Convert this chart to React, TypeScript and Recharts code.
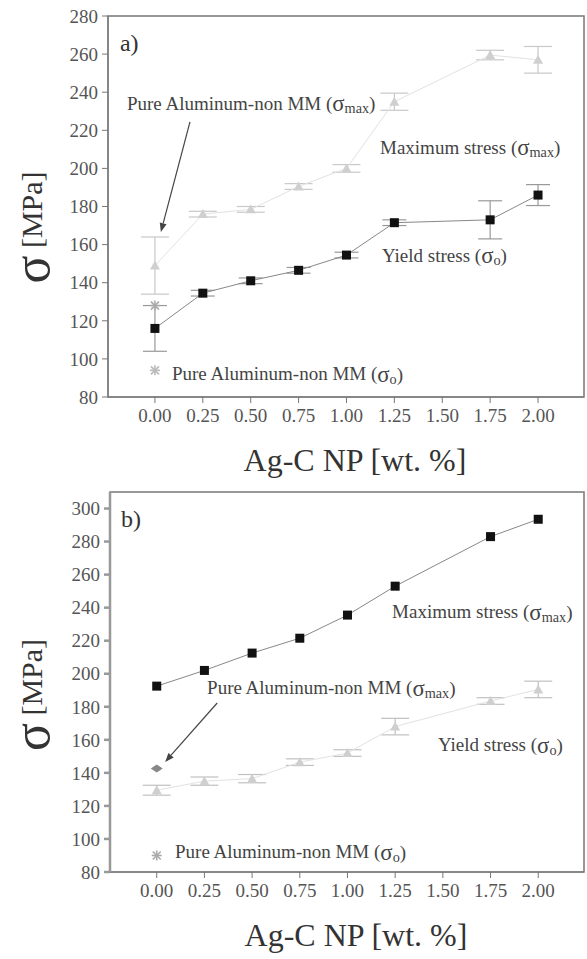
import React from 'react';
import {
  ComposedChart,
  Line,
  XAxis,
  YAxis,
  ErrorBar,
  Scatter,
  ReferenceArea,
  ReferenceDot,
  ReferenceLine,
} from 'recharts';

const FONT = 'Liberation Serif, DejaVu Serif, serif';

// Ag-C NP content [wt. %]
const xs = [0, 0.25, 0.5, 0.75, 1.0, 1.25, 1.75, 2.0];
const xTicks = [0, 0.25, 0.5, 0.75, 1.0, 1.25, 1.5, 1.75, 2.0];

// panel a)
const yieldA = [116, 134.5, 141, 146.5, 154.5, 171.5, 173, 186];
const yieldAErr = [12, 1.5, 1.5, 1.5, 1.5, 1.5, 10, 5.5];
const maxA = [149, 176, 178.5, 190.5, 200, 235, 259.5, 257];
const maxAErr = [15, 1.5, 1.5, 1.5, 2, 4.5, 2.5, 7];
const pureA = [{ x: 0, y: 128 }];
const pureKeyA = [{ x: 0, y: 94 }];
const yTicksA = [80, 100, 120, 140, 160, 180, 200, 220, 240, 260, 280];

// panel b)
const maxB = [192.5, 202, 212.5, 221.5, 235.5, 253, 283, 293.5];
const yieldB = [129.5, 135, 136.5, 146.5, 152, 168, 183.5, 190.5];
const yieldBErr = [3, 2.5, 2.5, 2, 2, 5, 2, 5];
const pureB = [{ x: 0, y: 142.6 }];
const pureKeyB = [{ x: 0, y: 90 }];
const yTicksB = [80, 100, 120, 140, 160, 180, 200, 220, 240, 260, 280, 300];

const dataA = xs.map((x, i) => ({
  x,
  yld: yieldA[i],
  yldErr: yieldAErr[i],
  max: maxA[i],
  maxErr: maxAErr[i],
}));
const dataB = xs.map((x, i) => ({
  x,
  max: maxB[i],
  yld: yieldB[i],
  yldErr: yieldBErr[i],
}));

const Square = (p: any) =>
  p.cx == null ? null : (
    <rect key={`sq${p.index}`} x={p.cx - 4.5} y={p.cy - 4.5} width={9} height={9} fill="#111" />
  );

const Tri = (color: string) => (p: any) =>
  p.cx == null ? null : (
    <path
      key={`tr${p.index}`}
      d={`M${p.cx},${p.cy - 5} L${p.cx + 5},${p.cy + 4} L${p.cx - 5},${p.cy + 4} Z`}
      fill={color}
    />
  );

const Star = (color: string) => (p: any) => (
  <g stroke={color} strokeWidth={1.6}>
    <line x1={p.cx - 5} y1={p.cy} x2={p.cx + 5} y2={p.cy} />
    <line x1={p.cx} y1={p.cy - 5} x2={p.cx} y2={p.cy + 5} />
    <line x1={p.cx - 4} y1={p.cy - 4} x2={p.cx + 4} y2={p.cy + 4} />
    <line x1={p.cx - 4} y1={p.cy + 4} x2={p.cx + 4} y2={p.cy - 4} />
  </g>
);

const Diamond = (color: string) => (p: any) => (
  <path d={`M${p.cx - 6},${p.cy} L${p.cx},${p.cy - 4} L${p.cx + 6},${p.cy} L${p.cx},${p.cy + 4} Z`} fill={color} />
);

// text with sigma + subscript
const sigmaText = (pre: string, sub: string, size = 19) => (p: any) => (
  <text
    x={p.cx}
    y={p.cy}
    style={{ fontFamily: FONT }}
    fontSize={size}
    fill="#444"
    dominantBaseline="central">
    {pre}
    <tspan fontSize={size * 1.2}>σ</tspan>
    <tspan fontSize={size * 0.75} dy={5}>
      {sub}
    </tspan>
    <tspan dy={-5}>)</tspan>
  </text>
);

const plain = (s: string, size: number) => (p: any) => (
  <text x={p.cx} y={p.cy} style={{ fontFamily: FONT }} fontSize={size} fill="#333" dominantBaseline="central">
    {s}
  </text>
);

const Arrow = (p: any) => {
  const { x1, y1, x2, y2 } = p;
  const a = Math.atan2(y2 - y1, x2 - x1);
  const L = 9;
  const w = 3.5;
  const bx = x2 - L * Math.cos(a);
  const by = y2 - L * Math.sin(a);
  const nx = -Math.sin(a) * w;
  const ny = Math.cos(a) * w;
  return (
    <g>
      <line x1={x1} y1={y1} x2={bx} y2={by} stroke="#444" strokeWidth={1.2} />
      <path d={`M${x2},${y2} L${bx + nx},${by + ny} L${bx - nx},${by - ny} Z`} fill="#444" />
    </g>
  );
};

const tickStyle = { fontSize: 19, fill: '#555', fontFamily: FONT, style: { fontFamily: FONT } };

const xTitle = (dy: number) => ({ viewBox }: any) => (
  <text
    x={viewBox.x + viewBox.width / 2 + 9}
    y={viewBox.y + dy}
    textAnchor="middle"
    dominantBaseline="central"
    style={{ fontFamily: FONT }}
    fontSize={32}
    fill="#333">
    Ag-C NP [wt. %]
  </text>
);

const yTitle = (dy: number) => ({ viewBox }: any) => {
  const cy = viewBox.y + viewBox.height / 2 + dy;
  return (
    <text
      x={31}
      y={cy}
      transform={`rotate(-90 31 ${cy})`}
      textAnchor="middle"
      dominantBaseline="central"
      style={{ fontFamily: FONT }}
      fill="#333">
      <tspan fontSize={52}>σ</tspan>
      <tspan fontSize={30}> [MPa]</tspan>
    </text>
  );
};

const X_DOMAIN: [number, number] = [-0.245, 2.24];

const PanelA = () => (
  <ComposedChart width={587} height={490} data={dataA} margin={{ top: 16, right: 3, bottom: 0, left: 0 }}>
    <XAxis
      dataKey="x"
      type="number"
      domain={X_DOMAIN}
      ticks={xTicks}
      interval={0}
      allowDataOverflow
      tickFormatter={(v) => v.toFixed(2)}
      tick={tickStyle}
      tickSize={6}
      tickMargin={6}
      stroke="#777"
      height={93}
      label={{ content: xTitle(63) }}
    />
    <YAxis
      type="number"
      domain={[80, 280]}
      ticks={yTicksA}
      interval={0}
      allowDataOverflow
      tick={tickStyle}
      tickSize={6}
      tickMargin={4}
      stroke="#777"
      width={108}
      label={{ content: yTitle(21) }}
    />
    <ReferenceArea x1={X_DOMAIN[0]} x2={X_DOMAIN[1]} y1={80} y2={280} fill="none" stroke="#777" strokeWidth={1.5} />
    <Line dataKey="max" stroke="#e2e2e2" strokeWidth={1} dot={Tri('#cfcfcf')} isAnimationActive={false}>
      <ErrorBar dataKey="maxErr" width={14} stroke="#c8c8c8" strokeWidth={1.2} direction="y" />
    </Line>
    <Line dataKey="yld" stroke="#888" strokeWidth={1} dot={Square} isAnimationActive={false}>
      <ErrorBar dataKey="yldErr" width={12} stroke="#999" strokeWidth={1.2} direction="y" />
    </Line>
    <Scatter data={pureA} dataKey="y" shape={Star('#aaa')} isAnimationActive={false} />
    <Scatter data={pureKeyA} dataKey="y" shape={Star('#bbb')} isAnimationActive={false} />
    <ReferenceDot x={-0.183} y={265.8} r={0} ifOverflow="visible" shape={plain('a)', 24)} />
    <ReferenceDot x={-0.146} y={234.3} r={0} ifOverflow="visible" shape={sigmaText('Pure Aluminum-non MM (', 'max')} />
    <ReferenceDot x={1.175} y={211.2} r={0} ifOverflow="visible" shape={sigmaText('Maximum stress (', 'max')} />
    <ReferenceDot x={1.185} y={154.5} r={0} ifOverflow="visible" shape={sigmaText('Yield stress (', 'o')} />
    <ReferenceDot x={0.089} y={92.1} r={0} ifOverflow="visible" shape={sigmaText('Pure Aluminum-non MM (', 'o')} />
    <ReferenceLine
      segment={[
        { x: 0.183, y: 224.4 },
        { x: 0.031, y: 166.6 },
      ]}
      ifOverflow="visible"
      shape={Arrow}
    />
  </ComposedChart>
);

const PanelB = () => (
  <ComposedChart width={587} height={469} data={dataB} margin={{ top: 2, right: 3, bottom: 0, left: 0 }}>
    <XAxis
      dataKey="x"
      type="number"
      domain={X_DOMAIN}
      ticks={xTicks}
      interval={0}
      allowDataOverflow
      tickFormatter={(v) => v.toFixed(2)}
      tick={tickStyle}
      tickSize={6}
      tickMargin={6}
      stroke="#777"
      height={87}
      label={{ content: xTitle(63) }}
    />
    <YAxis
      type="number"
      domain={[80, 310]}
      ticks={yTicksB}
      interval={0}
      allowDataOverflow
      tick={tickStyle}
      tickSize={6}
      tickMargin={4}
      stroke="#999"
      strokeWidth={2.5}
      width={110}
      label={{ content: yTitle(13) }}
    />
    <ReferenceArea x1={X_DOMAIN[0]} x2={X_DOMAIN[1]} y1={80} y2={310} fill="none" stroke="#777" strokeWidth={1.5} />
    <Line dataKey="yld" stroke="#e2e2e2" strokeWidth={1} dot={Tri('#cfcfcf')} isAnimationActive={false}>
      <ErrorBar dataKey="yldErr" width={14} stroke="#c0c0c0" strokeWidth={1.2} direction="y" />
    </Line>
    <Line dataKey="max" stroke="#888" strokeWidth={1} dot={Square} isAnimationActive={false} />
    <Scatter data={pureB} dataKey="y" shape={Diamond('#888')} isAnimationActive={false} />
    <Scatter data={pureKeyB} dataKey="y" shape={Star('#aaa')} isAnimationActive={false} />
    <ReferenceDot x={-0.187} y={293.4} r={0} ifOverflow="visible" shape={plain('b)', 24)} />
    <ReferenceDot x={1.234} y={237.6} r={0} ifOverflow="visible" shape={sigmaText('Maximum  stress (', 'max')} />
    <ReferenceDot x={0.264} y={191.4} r={0} ifOverflow="visible" shape={sigmaText('Pure Aluminum-non MM (', 'max')} />
    <ReferenceDot x={1.474} y={156.9} r={0} ifOverflow="visible" shape={sigmaText('Yield  stress (', 'o')} />
    <ReferenceDot x={0.096} y={92.3} r={0} ifOverflow="visible" shape={sigmaText('Pure Aluminum-non MM (', 'o')} />
    <ReferenceLine
      segment={[
        { x: 0.317, y: 182.3 },
        { x: 0.044, y: 146.6 },
      ]}
      ifOverflow="visible"
      shape={Arrow}
    />
  </ComposedChart>
);

const App = () => (
  <div
    style={{
      position: 'absolute',
      left: 0,
      top: 0,
      width: 587,
      height: 959,
      background: '#fff',
      fontFamily: FONT,
    }}>
    <PanelA />
    <PanelB />
  </div>
);

export default App;
